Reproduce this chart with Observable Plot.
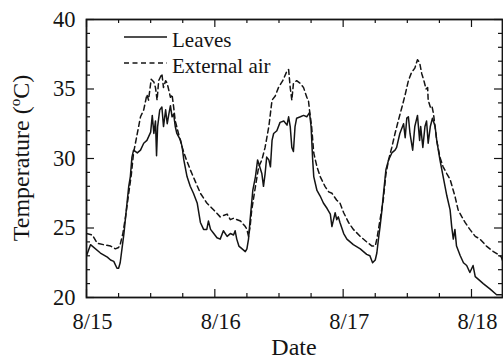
<!DOCTYPE html>
<html><head><meta charset="utf-8">
<script src="https://cdn.jsdelivr.net/npm/d3@7"></script>
<script src="https://cdn.jsdelivr.net/npm/@observablehq/plot@0.6"></script>
<style>body{margin:0;background:#fff} svg text{font-family:"Liberation Serif",serif}</style>
</head><body><div id="chart"></div>
<script>
// Hours since 8/15 00:00 and temperatures (°C)
const leavesHours = [0.0,0.75,2.6,3.9,4.5,5.1,5.7,6.0,6.3,6.7,7.0,7.5,7.9,8.2,8.5,8.8,9.5,10.1,10.7,11.3,12.0,12.3,12.6,12.9,13.1,13.3,13.7,14.1,14.4,14.8,15.1,15.4,15.7,16.0,16.3,16.6,16.9,17.6,17.9,18.2,18.8,19.4,20.0,20.7,21.3,21.9,22.5,22.8,23.2,23.8,24.4,25.0,25.6,26.3,26.9,27.5,27.8,28.1,28.5,29.1,29.7,30.0,30.3,30.6,31.1,31.6,32.0,32.4,32.8,33.1,33.4,33.7,34.1,34.4,34.7,35.0,35.6,36.2,36.9,37.5,37.8,38.1,38.4,38.7,39.0,39.3,40.0,40.6,41.2,41.7,42.0,42.3,42.5,43.1,43.7,44.3,45.0,45.6,45.9,46.2,46.5,46.8,47.1,47.4,48.1,48.7,49.9,51.2,52.4,53.0,53.5,54.0,54.3,54.6,54.9,55.2,55.5,56.0,56.5,57.1,57.7,58.0,58.6,59.3,59.6,59.9,60.2,60.5,61.0,61.4,61.9,62.3,62.5,62.9,63.3,63.6,63.9,64.3,64.7,65.2,65.5,66.1,66.7,67.4,68.0,68.3,68.6,68.9,69.2,69.9,70.5,71.1,71.7,72.3,72.7,73.3,74.2,75.5,76.7,77.6];
const leavesTemp = [23.0,23.8,23.2,22.9,22.7,22.6,22.1,22.1,22.5,23.7,24.6,26.5,28.0,28.7,30.1,30.6,30.4,30.6,31.1,31.3,31.9,33.1,31.8,32.7,30.2,32.3,33.5,33.7,32.3,33.5,32.5,33.2,33.8,33.0,33.2,32.3,31.8,31.3,30.8,29.9,28.7,28.0,27.5,26.8,25.4,24.9,24.9,25.5,24.9,24.6,24.3,24.2,24.8,24.4,24.6,24.5,24.8,24.2,23.7,23.5,23.3,23.5,24.2,25.6,27.7,28.7,29.9,29.4,28.9,28.0,28.9,30.1,29.9,29.4,31.3,31.8,32.0,32.6,32.7,32.4,33.0,32.3,30.8,30.5,32.3,32.9,33.0,33.1,33.0,33.3,32.3,29.9,28.7,27.7,27.3,26.8,26.4,26.0,25.1,25.6,26.1,25.6,25.8,25.4,24.6,24.2,23.8,23.5,23.1,23.0,22.5,22.7,23.2,24.2,25.1,26.1,27.3,29.2,29.9,30.4,30.6,30.8,31.8,32.5,31.5,32.9,33.0,31.8,30.6,32.3,33.1,31.3,32.3,30.8,32.3,32.7,31.1,32.3,32.9,32.3,31.3,29.9,28.7,27.3,26.3,25.1,24.2,24.9,23.7,23.0,22.5,22.3,21.8,22.3,21.5,21.3,21.0,20.6,20.2,20.2];
const airHours = [0.0,1.1,2.0,3.2,4.5,5.4,6.0,6.3,6.8,7.3,7.9,8.4,8.8,9.5,10.1,10.7,11.3,11.6,12.1,12.6,12.9,13.2,13.5,14.1,14.4,14.8,15.1,15.4,15.7,16.0,16.3,16.6,17.2,17.9,18.5,19.4,20.4,21.3,22.5,23.8,25.0,26.3,26.9,27.5,28.8,29.7,30.0,30.3,30.6,30.9,31.6,32.2,32.8,33.4,34.1,34.7,35.3,35.9,36.7,37.5,37.8,38.1,38.4,38.7,39.3,40.0,40.6,41.2,41.5,41.7,42.1,42.5,43.1,43.7,44.6,45.3,45.9,46.8,47.4,48.1,49.0,49.9,51.2,52.4,53.4,54.0,54.3,54.9,55.5,56.0,56.5,57.1,57.7,58.3,59.0,59.6,60.2,60.8,61.4,61.9,62.3,62.7,63.1,63.5,63.8,63.9,64.3,64.6,64.9,65.5,66.1,66.7,67.4,68.0,68.9,69.5,70.2,70.8,71.7,72.7,73.6,74.8,76.1,77.0,77.6,77.9];
const airTemp = [24.6,24.5,23.9,23.8,23.7,23.5,23.6,23.8,24.6,25.8,27.5,28.9,30.4,31.8,33.0,33.5,34.6,34.2,35.7,35.5,35.1,34.2,35.6,36.1,35.1,35.6,35.4,34.9,34.4,34.6,33.7,32.7,31.8,30.8,30.1,29.2,28.3,27.5,26.8,26.3,25.8,26.0,25.6,25.7,25.5,25.1,24.9,24.4,25.1,26.3,28.0,29.4,29.9,30.8,32.3,34.2,34.5,35.1,35.6,36.3,36.4,35.1,34.2,35.4,35.6,35.4,35.1,34.4,34.2,33.5,32.3,30.4,29.4,28.7,28.0,27.6,27.5,27.0,26.8,26.1,25.4,24.9,24.4,24.0,23.7,23.7,24.2,25.6,27.0,28.9,29.9,30.8,31.8,32.7,33.7,34.6,35.6,36.2,36.5,37.1,36.9,36.1,35.6,35.0,35.1,34.2,33.7,33.8,33.2,31.3,30.1,29.4,28.9,28.5,27.3,26.3,25.8,25.4,24.9,24.4,24.2,23.7,23.3,23.1,22.9,22.5];

const seriesNames = ["Leaves", "External air"];
const dayHours = [0, 24, 48, 72];
const dayLabels = ["8/15", "8/16", "8/17", "8/18"];
const minorHours = [6, 12, 18, 30, 36, 42, 54, 60, 66];
const yMajor = [20, 25, 30, 35, 40];
const yMinor = [21, 22, 23, 24, 26, 27, 28, 29, 31, 32, 33, 34, 36, 37, 38, 39];
const xTitle = "Date";
const yTitleMain = "Temperature (";
const yTitleSup = "o";
const yTitleEnd = "C)";

const W = 503, H = 359, mL = 86, mR = 1, mT = 19, mB = 62;
const innerW = W - mL - mR, innerH = H - mT - mB;
const ink = "#141414";
const serif = "Liberation Serif";
const major = 8, minor = 4;

const leaves = leavesHours.map((h, i) => ({h, t: leavesTemp[i]}));
const air = airHours.map((h, i) => ({h, t: airTemp[i]}));

const tickStyle = {stroke: ink, strokeWidth: 1.2};
const plot = Plot.plot({
  width: W, height: H,
  marginLeft: mL, marginRight: mR, marginTop: mT, marginBottom: mB,
  style: {background: "#fff", fontFamily: serif},
  x: {domain: [0, 77.8]},
  y: {domain: [20, 40]},
  marks: [
    Plot.line(air, {x: "h", y: "t", stroke: ink, strokeWidth: 1.5, strokeDasharray: "5,3.5", clip: true}),
    Plot.line(leaves, {x: "h", y: "t", stroke: ink, strokeWidth: 1.5, clip: true}),
    // inward ticks on all four sides
    Plot.ruleX(dayHours, {x: d => d, insetTop: innerH - major, ...tickStyle}),
    Plot.ruleX(dayHours, {x: d => d, insetBottom: innerH - major, ...tickStyle}),
    Plot.ruleX(minorHours, {x: d => d, insetTop: innerH - minor, ...tickStyle}),
    Plot.ruleX(minorHours, {x: d => d, insetBottom: innerH - minor, ...tickStyle}),
    Plot.ruleY(yMajor, {y: d => d, insetRight: innerW - major, ...tickStyle}),
    Plot.ruleY(yMajor, {y: d => d, insetLeft: innerW - major, ...tickStyle}),
    Plot.ruleY(yMinor, {y: d => d, insetRight: innerW - minor, ...tickStyle}),
    Plot.ruleY(yMinor, {y: d => d, insetLeft: innerW - minor, ...tickStyle}),
    Plot.frame({stroke: ink, strokeWidth: 1.8}),
    Plot.axisX(dayHours, {tickSize: 0, tickPadding: 16, dx: 6, label: null,
      tickFormat: d => dayLabels[dayHours.indexOf(d)], fill: ink,
      fontFamily: serif, fontSize: 22.5, fontVariant: "normal"}),
    Plot.axisY(yMajor, {tickSize: 0, tickPadding: 11, label: null, fill: ink,
      fontFamily: serif, fontSize: 22.5, fontVariant: "normal"})
  ]
});

const svg = d3.select(plot);
svg.append("text")
  .attr("x", mL + innerW / 2).attr("y", 355)
  .attr("text-anchor", "middle").attr("font-family", serif).attr("font-size", 24).attr("fill", ink)
  .text(xTitle);
const yt = svg.append("text")
  .attr("transform", `translate(29, ${mT + innerH / 2}) rotate(-90)`)
  .attr("text-anchor", "middle").attr("font-family", serif).attr("font-size", 24).attr("fill", ink);
yt.append("tspan").text(yTitleMain);
yt.append("tspan").attr("font-size", 15).attr("dy", -9).text(yTitleSup);
yt.append("tspan").attr("dy", 9).text(yTitleEnd);

// legend
const lg = svg.append("g").attr("font-family", serif).attr("font-size", 21).attr("fill", ink)
  .attr("text-anchor", "start");
const legendRows = [{name: seriesNames[0], dash: null, ly: 37, ty: 47},
                    {name: seriesNames[1], dash: "5,3.5", ly: 63, ty: 73}];
legendRows.forEach(r => {
  lg.append("line").attr("x1", 124).attr("x2", 167).attr("y1", r.ly).attr("y2", r.ly)
    .attr("stroke", ink).attr("stroke-width", 1.5).attr("stroke-dasharray", r.dash);
  lg.append("text").attr("x", 172).attr("y", r.ty).attr("text-anchor", "start").text(r.name);
});

svg.selectAll("text").attr("font-family", serif);

document.getElementById("chart").appendChild(plot);
</script>
</body></html>
